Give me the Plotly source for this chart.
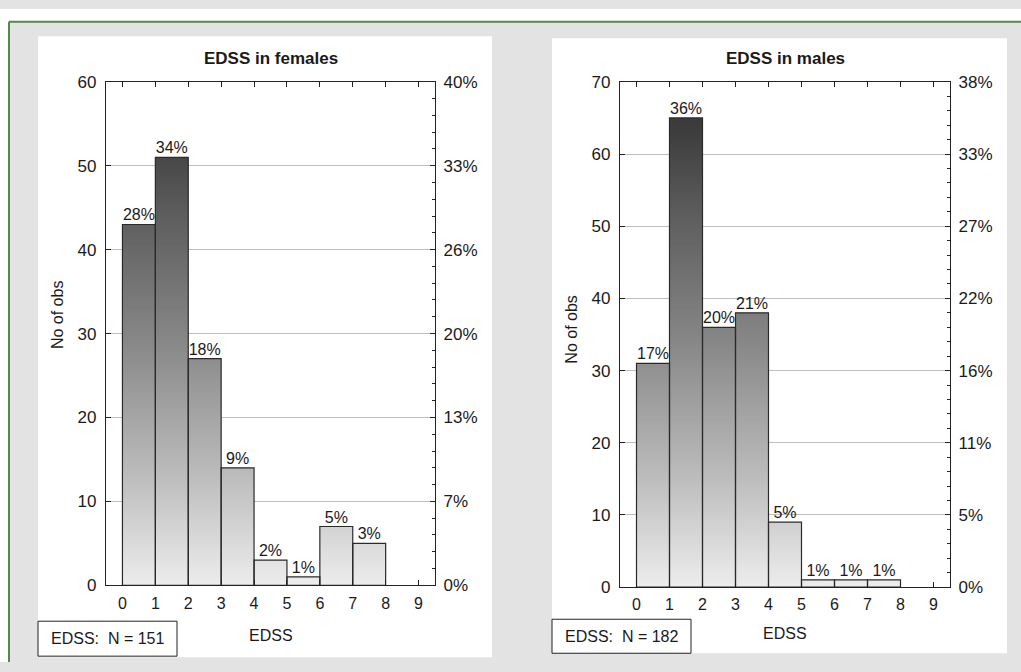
import plotly.graph_objects as go

W, H = 1021, 672

# ---------------- data ----------------
edss = [0, 1, 2, 3, 4, 5, 6, 7, 8, 9]
female_counts = [43, 51, 27, 14, 3, 1, 7, 5, 0]
male_counts = [31, 65, 36, 38, 9, 1, 1, 1, 0]
female_pct_labels = ["28%", "34%", "18%", "9%", "2%", "1%", "5%", "3%", ""]
male_pct_labels = ["17%", "36%", "20%", "21%", "5%", "1%", "1%", "1%", ""]
female_left_ticks = [0, 10, 20, 30, 40, 50, 60]
female_right_ticktext = ["0%", "7%", "13%", "20%", "26%", "33%", "40%"]
male_left_ticks = [0, 10, 20, 30, 40, 50, 60, 70]
male_right_ticktext = ["0%", "5%", "11%", "16%", "22%", "27%", "33%", "38%"]
female_n = 151
male_n = 182


def X(px):
    return px / W


def Y(py):
    return 1 - py / H


FONT = "Liberation Sans, Arial, sans-serif"
TXT = "#1a1a1a"

fig = go.Figure()

GRAD = [[0, "#f3f3f3"], [0.25, "#bababa"], [0.5, "#878787"],
        [0.75, "#5c5c5c"], [0.9, "#3e3e3e"], [1, "#333333"]]


def bar_polys(counts):
    xs, ys = [], []
    for i, c in enumerate(counts):
        if c <= 0:
            continue
        x0, x1 = edss[i], edss[i] + 1
        xs += [x0, x0, x1, x1, x0, None]
        ys += [0, c, c, 0, 0, None]
    return xs, ys


def add_panel(counts, labels, ymax, xa, ya, ya2):
    xs, ys = bar_polys(counts)
    fig.add_trace(go.Scatter(
        x=xs, y=ys, xaxis=xa, yaxis=ya, mode="lines", fill="toself",
        line=dict(color="#2a2a2a", width=1.2),
        fillgradient=dict(type="vertical", colorscale=GRAD, start=0, stop=ymax),
        hoverinfo="skip", showlegend=False))
    centers = [e + 0.5 for e in edss[:len(counts)]]
    fig.add_trace(go.Scatter(
        x=centers, y=counts, text=labels, mode="text",
        textposition="top center",
        textfont=dict(family=FONT, size=16, color=TXT),
        xaxis=xa, yaxis=ya, hoverinfo="skip", showlegend=False, cliponaxis=False))
    fig.add_trace(go.Scatter(x=[-0.5, 9.5], y=[0, 0], mode="markers",
                             marker=dict(opacity=0, size=1),
                             xaxis=xa, yaxis=ya2,
                             hoverinfo="skip", showlegend=False))


add_panel(female_counts, female_pct_labels, female_left_ticks[-1], "x", "y", "y2")
add_panel(male_counts, male_pct_labels, male_left_ticks[-1], "x2", "y3", "y4")

tickfont = dict(family=FONT, size=17, color=TXT)
xtickfont = dict(family=FONT, size=16, color=TXT)


def xaxis(dom, anchor):
    return dict(domain=dom, anchor=anchor, range=[-0.5, 9.5],
                tickmode="array", tickvals=edss,
                ticktext=[str(e) for e in edss],
                ticks="inside", ticklen=5, tickcolor="#222",
                showline=True, linecolor="#222", linewidth=1.2, mirror="ticks",
                showgrid=False, zeroline=False, tickfont=xtickfont,
                ticklabelstandoff=3, fixedrange=True)


def yleft(dom, anchor, ticks):
    return dict(domain=dom, anchor=anchor, range=[0, ticks[-1]],
                tickmode="array", tickvals=ticks, ticktext=[str(t) for t in ticks],
                ticks="inside", ticklen=5, tickcolor="#222",
                showline=True, linecolor="#222", linewidth=1.2,
                showgrid=True, gridcolor="#bdbdbd", gridwidth=1,
                zeroline=False, tickfont=tickfont, ticklabelstandoff=5,
                fixedrange=True)


def yright(dom, anchor, over, ticks, text):
    return dict(domain=dom, anchor=anchor, overlaying=over, side="right",
                range=[0, ticks[-1]], tickmode="array", tickvals=ticks,
                ticktext=text, ticks="inside", ticklen=5, tickcolor="#222",
                minor=dict(tickmode="linear", tick0=0, dtick=2, ticks="inside",
                           ticklen=3, tickcolor="#222", showgrid=False),
                showline=True, linecolor="#222", linewidth=1.2,
                showgrid=False, zeroline=False, tickfont=tickfont,
                ticklabelstandoff=4, fixedrange=True)


fx = [X(106), X(435)]
fy = [Y(593), Y(75)]
mx = [X(620), X(950)]
my = [Y(595), Y(75)]

fig.update_layout(
    width=W, height=H, margin=dict(l=0, r=0, t=0, b=0),
    paper_bgcolor="#e3e3e3", plot_bgcolor="rgba(0,0,0,0)",
    font=dict(family=FONT, color=TXT),
    xaxis=xaxis(fx, "y"), yaxis=yleft(fy, "x", female_left_ticks),
    yaxis2=yright(fy, "x", "y", female_left_ticks, female_right_ticktext),
    xaxis2=xaxis(mx, "y3"), yaxis3=yleft(my, "x2", male_left_ticks),
    yaxis4=yright(my, "x2", "y3", male_left_ticks, male_right_ticktext),
    showlegend=False,
)

shapes = [
    dict(type="rect", xref="paper", yref="paper", x0=0, x1=1, y0=Y(13), y1=1,
         fillcolor="white", line=dict(width=0), layer="below"),
    dict(type="rect", xref="paper", yref="paper", x0=0, x1=X(9), y0=0, y1=1,
         fillcolor="white", line=dict(width=0), layer="below"),
    dict(type="line", xref="paper", yref="paper", x0=X(9), x1=1, y0=Y(13), y1=Y(13),
         line=dict(color="#4f8a4a", width=2), layer="below"),
    dict(type="line", xref="paper", yref="paper", x0=X(9), x1=X(9), y0=Y(13), y1=0,
         line=dict(color="#4f8a4a", width=2), layer="below"),
    dict(type="rect", xref="paper", yref="paper", x0=X(38), x1=X(492), y0=Y(667), y1=Y(28),
         fillcolor="white", line=dict(width=0), layer="below"),
    dict(type="rect", xref="paper", yref="paper", x0=X(552), x1=X(1007), y0=Y(663), y1=Y(30),
         fillcolor="white", line=dict(width=0), layer="below"),
    dict(type="rect", xref="paper", yref="paper", x0=X(38), x1=X(177), y0=Y(666), y1=Y(630),
         fillcolor="white", line=dict(color="#222", width=1), layer="below"),
    dict(type="rect", xref="paper", yref="paper", x0=X(552), x1=X(691), y0=Y(663), y1=Y(628),
         fillcolor="white", line=dict(color="#222", width=1), layer="below"),
]

annots = [
    dict(text="<b>EDSS in females</b>", x=X(270.5), y=Y(51), font=dict(size=17)),
    dict(text="<b>EDSS in males</b>", x=X(785), y=Y(51), font=dict(size=17)),
    dict(text="No of obs", x=X(57), y=Y(315), textangle=-90, font=dict(size=16)),
    dict(text="No of obs", x=X(572), y=Y(330), textangle=-90, font=dict(size=16)),
    dict(text="EDSS", x=X(270.5), y=Y(645), font=dict(size=16)),
    dict(text="EDSS", x=X(785), y=Y(643), font=dict(size=16)),
    dict(text=f"EDSS:  N = {female_n}", x=X(107.5), y=Y(648), font=dict(size=16)),
    dict(text=f"EDSS:  N = {male_n}", x=X(621.5), y=Y(645.5), font=dict(size=16)),
]
for a in annots:
    a.update(xref="paper", yref="paper", showarrow=False, xanchor="center", yanchor="middle")
    a["font"] = dict(family=FONT, color=TXT, **a["font"])

fig.update_layout(shapes=shapes, annotations=annots)
fig.write_html("out.html")
